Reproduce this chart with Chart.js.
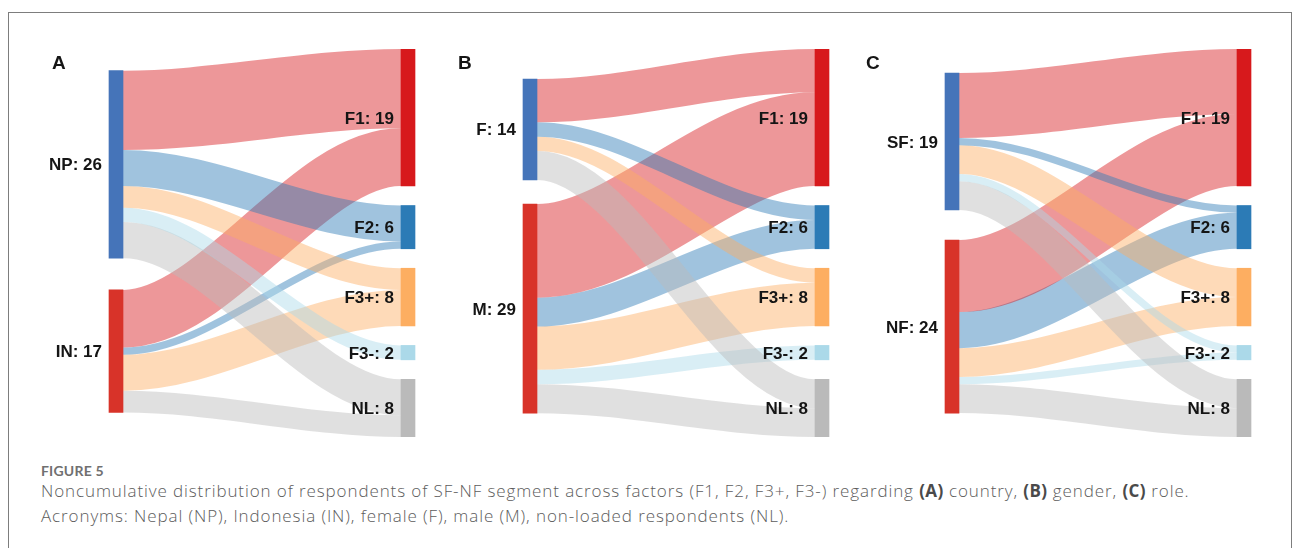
<!DOCTYPE html>
<html>
<head>
<meta charset="utf-8">
<title>Figure 5</title>
<script src="https://cdn.jsdelivr.net/npm/chart.js@4.4.1/dist/chart.umd.min.js"></script>
<style>
  body { margin: 0; background: #fff; }
  #page { position: relative; width: 1293px; height: 548px; overflow: hidden; }
  #frame { position: absolute; left: 8px; top: 12px; width: 1284px; height: 560px;
           border: 1px solid #7d7d7d; box-sizing: border-box; }
  canvas { position: absolute; top: 40px; }
  #figLabel { position: absolute; left: 41px; top: 464px; font: 700 14px Lato, sans-serif;
              line-height: 14px; color: #707070; letter-spacing: 0.2px; }
  #caption { position: absolute; left: 41px; top: 478px; font: 300 17px "Open Sans", sans-serif;
             line-height: 25px; color: #5c5c5c; white-space: nowrap; letter-spacing: 0.9px; }
  #caption b { color: #4a4a4a; font-weight: 700; letter-spacing: 0.4px; }
</style>
</head>
<body>
<div id="page">
  <div id="frame"></div>
  <canvas id="chartA" width="400" height="410" style="left:19px"></canvas>
  <canvas id="chartB" width="400" height="410" style="left:433px"></canvas>
  <canvas id="chartC" width="400" height="410" style="left:855px"></canvas>
  <div id="figLabel">FIGURE 5</div>
  <div id="caption">Noncumulative distribution of respondents of SF-NF segment across factors (F1, F2, F3+, F3-) regarding <b>(A)</b> country, <b>(B)</b> gender, <b>(C)</b> role.<br>Acronyms: Nepal (NP), Indonesia (IN), female (F), male (M), non-loaded respondents (NL).</div>
</div>
<script>
// Target factors (right column), same for all three panels
const targets = ['F1', 'F2', 'F3+', 'F3-', 'NL'];

// Panel A - country
const sourcesA = ['NP', 'IN'];
const flowsNP = [11, 5, 3, 2, 5];
const flowsIN = [8, 1, 5, 0, 3];

// Panel B - gender
const sourcesB = ['F', 'M'];
const flowsF = [6, 2, 2, 0, 4];
const flowsM = [13, 4, 6, 2, 4];

// Panel C - role
const sourcesC = ['SF', 'NF'];
const flowsSF = [9, 1, 4, 1, 4];
const flowsNF = [10, 5, 4, 1, 4];

const sourceColors = ['#4574b9', '#d83329'];
const targetColors = ['#d7191c', '#2c7bb6', '#fdae61', '#abd9e9', '#bababa'];
const flowAlpha = 0.45;

// layout (canvas pixels / value units)
const nodeWidth = 14;
const xLeftNode = 97;
const xRightNode = 389;
const rightGap = 2.7;
const padTop = 9, padBottom = 13;
const plotHeight = 410 - padTop - padBottom;

function withAlpha(hex, a) {
    const n = parseInt(hex.slice(1), 16);
    return `rgba(${n >> 16}, ${(n >> 8) & 255}, ${n & 255}, ${a})`;
}

function labelPlugin(nodes, letter, letterX) {
    return {
        id: 'nodeLabels',
        afterDatasetsDraw(chart) {
            const { ctx, scales: { x, y } } = chart;
            ctx.save();
            ctx.fillStyle = '#151515';
            ctx.textAlign = 'right';
            ctx.textBaseline = 'alphabetic';
            ctx.font = 'bold 17px "Liberation Sans", Arial, sans-serif';
            nodes.forEach(n => {
                const cy = (y.getPixelForValue(n.top) + y.getPixelForValue(n.top + n.value)) / 2;
                ctx.fillText(n.name + ': ' + n.value, x.getPixelForValue(n.x) - nodeWidth / 2 - 7, cy + 6);
            });
            ctx.textAlign = 'left';
            ctx.font = 'bold 19px "Liberation Sans", Arial, sans-serif';
            ctx.fillText(letter, letterX, 29);
            ctx.restore();
        }
    };
}

function buildPanel(canvasId, letter, letterX, sources, rows, leftTop, leftGap) {
    const srcTotals = rows.map(r => r.reduce((a, b) => a + b, 0));
    const tgtTotals = targets.map((_, j) => rows.reduce((s, r) => s + r[j], 0));
    const yMax = tgtTotals.reduce((a, b) => a + b, 0) + (targets.length - 1) * rightGap;
    const pxPerUnit = plotHeight / yMax;

    const tgtTop = [];
    let pos = 0;
    tgtTotals.forEach(v => { tgtTop.push(pos); pos += v + rightGap; });
    const srcTop = [];
    pos = leftTop;
    srcTotals.forEach(v => { srcTop.push(pos); pos += v + leftGap; });

    const datasets = [];
    const tgtFill = tgtTop.slice();
    const x0 = xLeftNode + nodeWidth / 2;
    const x1 = xRightNode - nodeWidth / 2;
    rows.forEach((row, i) => {
        let sy = srcTop[i];
        row.forEach((v, j) => {
            if (!v) return;
            const ys = sy + v / 2;
            const ye = tgtFill[j] + v / 2;
            sy += v;
            tgtFill[j] += v;
            datasets.push({
                type: 'line',
                data: [{ x: x0, y: ys }, { x: x0 + 0.5, y: ys }, { x: x1 - 0.5, y: ye }, { x: x1, y: ye }],
                borderColor: withAlpha(targetColors[j], flowAlpha),
                borderWidth: v * pxPerUnit,
                borderCapStyle: 'butt',
                cubicInterpolationMode: 'monotone',
                pointRadius: 0,
                fill: false,
                order: 1
            });
        });
    });

    datasets.push({
        type: 'bar',
        data: sources.map((s, i) => ({ x: xLeftNode, y: [srcTop[i], srcTop[i] + srcTotals[i]] })),
        backgroundColor: sourceColors,
        barThickness: nodeWidth,
        grouped: false,
        order: 0
    });
    datasets.push({
        type: 'bar',
        data: targets.map((t, j) => ({ x: xRightNode, y: [tgtTop[j], tgtTop[j] + tgtTotals[j]] })),
        backgroundColor: targetColors,
        barThickness: nodeWidth,
        grouped: false,
        order: 0
    });

    const nodes = sources.map((s, i) => ({ name: s, value: srcTotals[i], top: srcTop[i], x: xLeftNode }))
        .concat(targets.map((t, j) => ({ name: t, value: tgtTotals[j], top: tgtTop[j], x: xRightNode })));

    return new Chart(document.getElementById(canvasId), {
        type: 'line',
        data: { datasets },
        options: {
            responsive: false,
            animation: false,
            events: [],
            layout: { padding: { top: padTop, bottom: padBottom, left: 0, right: 0 } },
            plugins: { legend: { display: false }, tooltip: { enabled: false } },
            scales: {
                x: { type: 'linear', min: 0, max: 400, offset: false, display: false },
                y: { type: 'linear', min: 0, max: yMax, reverse: true, display: false }
            }
        },
        plugins: [labelPlugin(nodes, letter, letterX)]
    });
}

buildPanel('chartA', 'A', 33, sourcesA, [flowsNP, flowsIN], 3.0, 4.4);
buildPanel('chartB', 'B', 25, sourcesB, [flowsF, flowsM], 4.16, 3.33);
buildPanel('chartC', 'C', 11, sourcesC, [flowsSF, flowsNF], 3.33, 4.15);
</script>
</body>
</html>
